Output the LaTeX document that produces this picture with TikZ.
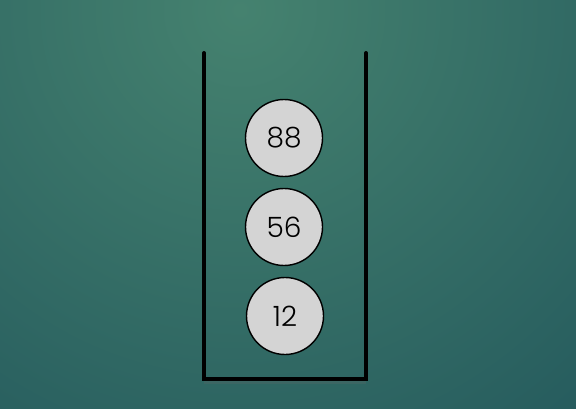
\documentclass[tikz,border=0pt]{standalone}
\usepackage{fontspec}
\newfontfamily\pop{Poppins}[UprightFont=* Light]
\begin{document}
\begin{tikzpicture}[x=1pt,y=-1pt,
  wall/.style={line width=4pt,black},
  ball/.style={circle,draw=black,line width=1.4pt,fill=ballgray,minimum size=77pt,inner sep=0pt,font=\pop\fontsize{28}{28}\selectfont}]
\definecolor{bginner}{HTML}{45826F}
\definecolor{bgouter}{HTML}{164855}
\definecolor{ballgray}{HTML}{D4D4D4}
\useasboundingbox (0,0) rectangle (576,409);
\begin{scope}
\clip (0,0) rectangle (576,409);
\shade[inner color=bginner,outer color=bgouter] (240,10) circle (800);
\end{scope}
\coordinate (lt) at (204,53);
\coordinate (lb) at (204,379);
\coordinate (rb) at (366,379);
\coordinate (rt) at (366,53);
\draw[wall,black!60,opacity=0.25,line width=6pt] ([yshift=-2]lb) -- ([yshift=-2]rb);
\draw[wall,line cap=round,line join=miter] (lt) -- (lb) -- (rb) -- (rt);
\node[ball] (a) at (284,138) {88};
\node[ball] (b) at (284,227) {56};
\node[ball] (c) at (285,316) {12};
\end{tikzpicture}
\end{document}
